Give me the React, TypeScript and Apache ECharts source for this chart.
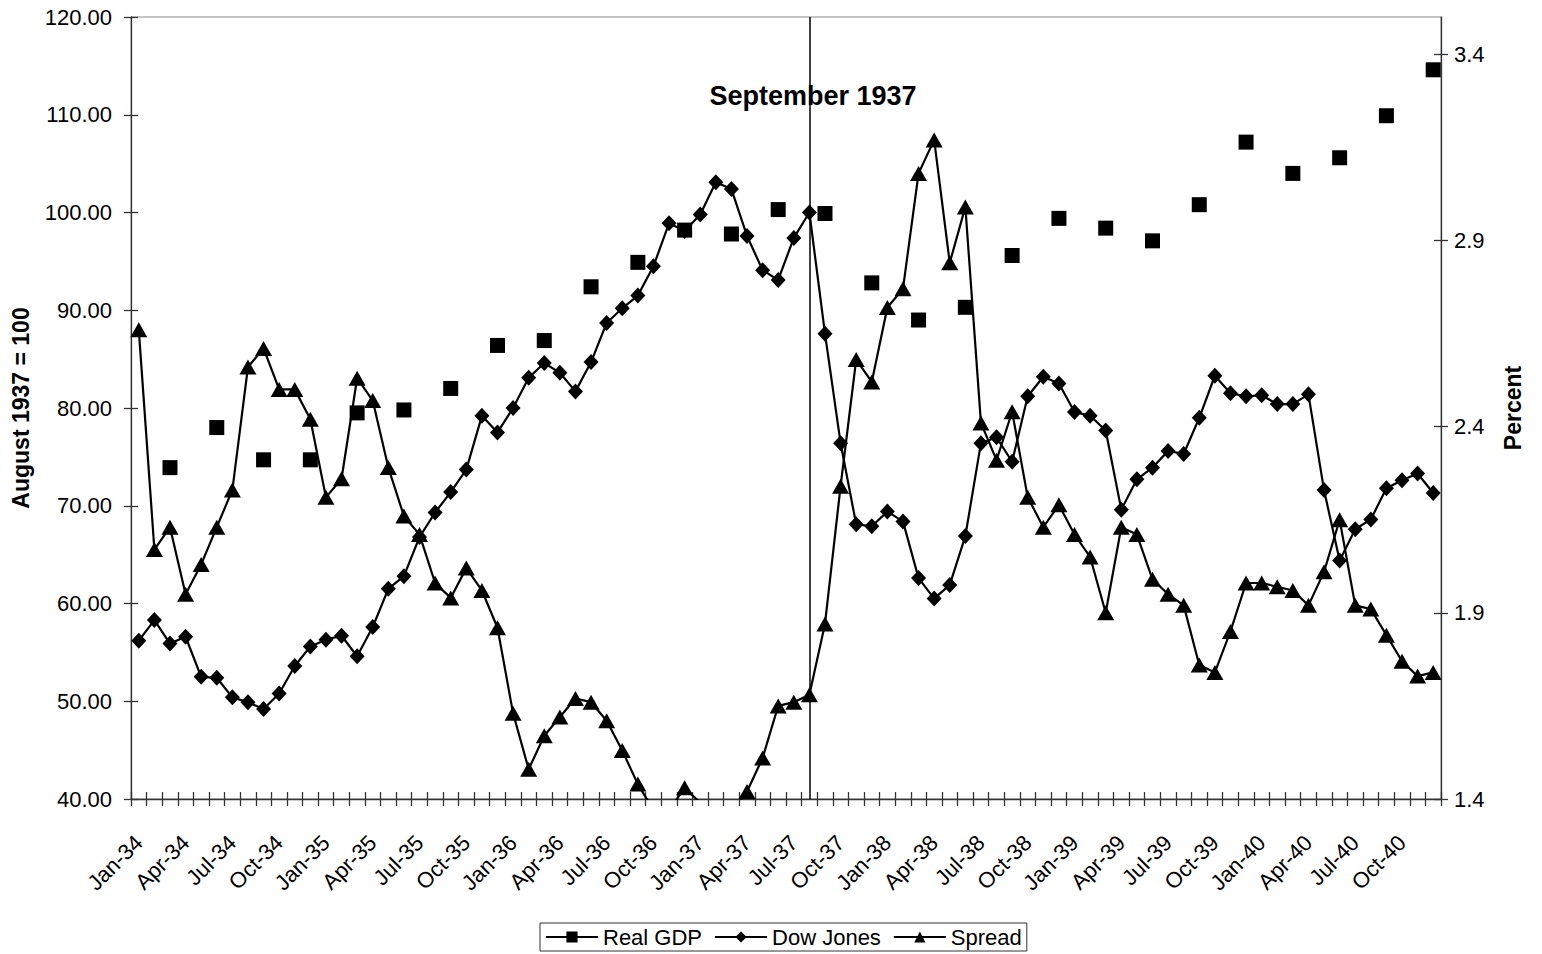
import React, { useEffect, useRef } from 'react';
import * as echarts from 'echarts';

const MONTHS = ['Jan', 'Feb', 'Mar', 'Apr', 'May', 'Jun', 'Jul', 'Aug', 'Sep', 'Oct', 'Nov', 'Dec'];
const YEARS = ['34', '35', '36', '37', '38', '39', '40'];
const categories: string[] = YEARS.flatMap((y) => MONTHS.map((m) => `${m}-${y}`));

// Real GDP, quarterly (Mar, Jun, Sep, Dec), August 1937 = 100
const gdpQuarterly = [
  73.9, 78.0, 74.7, 74.7,
  79.5, 79.8, 82.0, 86.4,
  86.9, 92.4, 94.9, 98.2,
  97.8, 100.3, 99.9, 92.8,
  89.0, 90.3, 95.6, 99.4,
  98.4, 97.1, 100.8, 107.2,
  104.0, 105.6, 109.9, 114.6,
];

// Dow Jones, monthly, August 1937 = 100
const dowJones = [
  56.2, 58.3, 55.9, 56.6, 52.5, 52.4, 50.4, 49.9, 49.2, 50.8, 53.6, 55.6,
  56.3, 56.7, 54.6, 57.6, 61.5, 62.8, 66.8, 69.3, 71.4, 73.7, 79.2, 77.5,
  80.0, 83.1, 84.6, 83.6, 81.7, 84.7, 88.7, 90.2, 91.5, 94.5, 98.9, 98.1,
  99.8, 103.1, 102.4, 97.6, 94.1, 93.1, 97.4, 100.0, 87.6, 76.4, 68.1, 67.9,
  69.4, 68.4, 62.6, 60.5, 61.9, 66.9, 76.4, 77.0, 74.5, 81.2, 83.2, 82.5,
  79.6, 79.2, 77.7, 69.6, 72.7, 73.9, 75.6, 75.3, 79.0, 83.3, 81.5, 81.2,
  81.3, 80.4, 80.4, 81.4, 71.6, 64.4, 67.6, 68.6, 71.8, 72.6, 73.3, 71.3,
];

// Spread, monthly, percent
const spread = [
  2.66, 2.07, 2.13, 1.95, 2.03, 2.13, 2.23, 2.56, 2.61, 2.50, 2.50, 2.42,
  2.21, 2.26, 2.53, 2.47, 2.29, 2.16, 2.11, 1.98, 1.94, 2.02, 1.96, 1.86,
  1.63, 1.48, 1.57, 1.62, 1.67, 1.66, 1.61, 1.53, 1.44, 1.37, 1.37, 1.43,
  1.39, 1.35, 1.36, 1.42, 1.51, 1.65, 1.66, 1.68, 1.87, 2.24, 2.58, 2.52,
  2.72, 2.77, 3.08, 3.17, 2.84, 2.99, 2.41, 2.31, 2.44, 2.21, 2.13, 2.19,
  2.11, 2.05, 1.90, 2.13, 2.11, 1.99, 1.95, 1.92, 1.76, 1.74, 1.85, 1.98,
  1.98, 1.97, 1.96, 1.92, 2.01, 2.15, 1.92, 1.91, 1.84, 1.77, 1.73, 1.74,
];

const rightTicks = [1.4, 1.9, 2.4, 2.9, 3.4];
const eventMonth = 'Aug-37';
const eventLabel = 'September 1937';

const gdpMonthly = categories.map((_, i) => (i % 3 === 2 ? gdpQuarterly[(i - 2) / 3] : null));

const FONT = '"Liberation Sans", Arial, Helvetica, sans-serif';
const AXIS_COLOR = '#333';

export default function App() {
  const ref = useRef<HTMLDivElement>(null);

  useEffect(() => {
    document.body.style.margin = '0';
    const chart = echarts.init(ref.current as HTMLDivElement, null, { renderer: 'svg' });

    const dupTick = { show: true, inside: true, length: 7, lineStyle: { color: AXIS_COLOR, width: 1.3 } };

    const option: any = {
      animation: false,
      backgroundColor: '#fff',
      textStyle: { fontFamily: FONT, color: '#000' },
      grid: {
        left: 131,
        right: 101,
        top: 17,
        bottom: 155,
        containLabel: false,
        outerBoundsMode: 'none',
        show: true,
        borderColor: '#888',
        borderWidth: 1,
        backgroundColor: 'transparent',
      },
      legend: {
        left: 540,
        top: 923,
        orient: 'horizontal',
        padding: [3, 5],
        itemGap: 12,
        itemWidth: 52,
        itemHeight: 14,
        borderColor: '#333',
        borderWidth: 1,
        textStyle: { fontSize: 22, color: '#000', fontFamily: FONT },
        data: [
          { name: 'Real GDP', lineStyle: { opacity: 1, width: 2, color: '#000' } },
          { name: 'Dow Jones' },
          { name: 'Spread' },
        ],
      },
      graphic: [
        {
          type: 'text',
          x: 813,
          y: 96,
          z: 100,
          style: {
            text: eventLabel,
            fontSize: 27,
            fontWeight: 'bold',
            fontFamily: FONT,
            fill: '#000',
            align: 'center',
            verticalAlign: 'middle',
          },
        },
      ],
      xAxis: [
        {
          type: 'category',
          data: categories,
          boundaryGap: true,
          position: 'bottom',
          axisLine: { show: true, lineStyle: { color: AXIS_COLOR, width: 1.3 } },
          axisTick: { show: true, interval: 0, length: 7, lineStyle: { color: AXIS_COLOR, width: 1.3 } },
          axisLabel: {
            interval: 2,
            rotate: 45,
            margin: 40,
            fontSize: 22,
            color: '#000',
            fontFamily: FONT,
          },
          splitLine: { show: false },
        },
        {
          type: 'category',
          data: categories,
          boundaryGap: true,
          position: 'bottom',
          axisLine: { show: false },
          axisTick: { ...dupTick, interval: 0 },
          axisLabel: { show: false },
          splitLine: { show: false },
        },
      ],
      yAxis: [
        {
          type: 'value',
          position: 'left',
          min: 40,
          max: 120,
          interval: 10,
          name: 'August 1937 = 100',
          nameLocation: 'middle',
          nameGap: 99,
          nameTextStyle: { fontSize: 23, fontWeight: 'bold', color: '#000', fontFamily: FONT },
          axisLine: { show: true, lineStyle: { color: AXIS_COLOR, width: 1.3 } },
          axisTick: { show: true, length: 7, lineStyle: { color: AXIS_COLOR, width: 1.3 } },
          axisLabel: {
            margin: 19,
            fontSize: 22,
            color: '#000',
            fontFamily: FONT,
            formatter: (v: number) => v.toFixed(2),
          },
          splitLine: { show: false },
        },
        {
          type: 'value',
          position: 'right',
          min: 1.4,
          max: 3.5,
          interval: 0.5,
          name: 'Percent',
          nameLocation: 'middle',
          nameGap: 60,
          nameTextStyle: { fontSize: 23, fontWeight: 'bold', color: '#000', fontFamily: FONT },
          axisLine: { show: true, lineStyle: { color: AXIS_COLOR, width: 1.3 } },
          axisTick: { show: true, length: 7, customValues: rightTicks, lineStyle: { color: AXIS_COLOR, width: 1.3 } },
          axisLabel: {
            margin: 13,
            fontSize: 22,
            color: '#000',
            fontFamily: FONT,
            customValues: rightTicks,
            formatter: (v: number) => (Math.abs(v - 3.5) < 1e-6 ? '' : v.toFixed(1)),
          },
          splitLine: { show: false },
        },
        {
          type: 'value',
          position: 'left',
          min: 40,
          max: 120,
          interval: 10,
          axisLine: { show: false },
          axisTick: dupTick,
          axisLabel: { show: false },
          splitLine: { show: false },
        },
        {
          type: 'value',
          position: 'right',
          min: 1.4,
          max: 3.5,
          interval: 0.5,
          axisLine: { show: false },
          axisTick: { ...dupTick, customValues: rightTicks },
          axisLabel: { show: false },
          splitLine: { show: false },
        },
      ],
      series: [
        {
          name: 'Real GDP',
          type: 'line',
          xAxisIndex: 0,
          yAxisIndex: 0,
          data: gdpMonthly,
          symbol: 'rect',
          symbolSize: 15,
          showAllSymbol: true,
          connectNulls: false,
          itemStyle: { color: '#000' },
          lineStyle: { color: '#000', width: 2, opacity: 0 },
          z: 3,
        },
        {
          name: 'Dow Jones',
          type: 'line',
          xAxisIndex: 0,
          yAxisIndex: 0,
          data: dowJones,
          symbol: 'diamond',
          symbolSize: [15, 16],
          showAllSymbol: true,
          itemStyle: { color: '#000' },
          lineStyle: { color: '#000', width: 2.2 },
          z: 3,
          markLine: {
            silent: true,
            symbol: ['none', 'none'],
            label: { show: false },
            lineStyle: { color: '#000', width: 1.5, type: 'solid' },
            data: [{ xAxis: eventMonth }],
          },
        },
        {
          name: 'Spread',
          type: 'line',
          xAxisIndex: 0,
          yAxisIndex: 1,
          data: spread,
          symbol: 'triangle',
          symbolSize: [17, 15],
          showAllSymbol: true,
          itemStyle: { color: '#000' },
          lineStyle: { color: '#000', width: 2.2 },
          z: 3,
        },
      ],
    };

    chart.setOption(option);
    return () => chart.dispose();
  }, []);

  return (
    <div
      ref={ref}
      style={{ position: 'absolute', left: 0, top: 0, width: 1542, height: 954, background: '#fff' }}
    />
  );
}
